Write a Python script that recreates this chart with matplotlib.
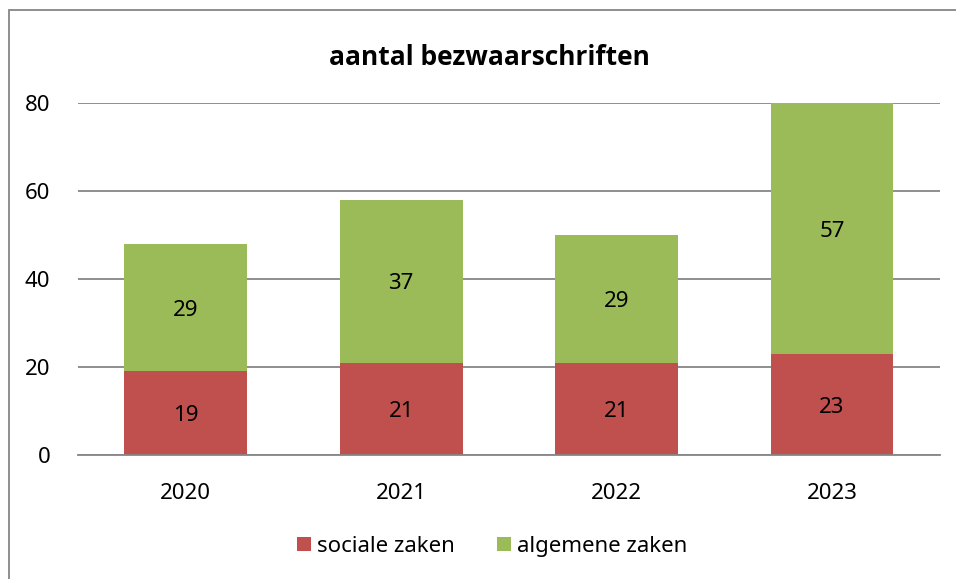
import matplotlib
matplotlib.use('agg')
import matplotlib.pyplot as plt
from matplotlib.patches import Rectangle

plt.rcParams['font.family'] = ['Noto Sans', 'DejaVu Sans']

# data
years = ['2020', '2021', '2022', '2023']
sociale = [19, 21, 21, 23]
algemene = [29, 37, 29, 57]

red = '#C0504D'
green = '#9BBB59'

fig = plt.figure(figsize=(9.56, 5.79), dpi=100)
ax = fig.add_axes([0.0816, 0.2142, 0.9014, 0.6078])

x = range(len(years))
b1 = ax.bar(x, sociale, width=0.57, color=red, label='sociale zaken', zorder=3)
b2 = ax.bar(x, algemene, width=0.57, bottom=sociale, color=green,
            label='algemene zaken', zorder=3)

# labels in the middle of each segment (slightly below centre like the original)
for i in x:
    ax.text(i, sociale[i] / 2 - 0.6, str(sociale[i]), ha='center', va='center',
            fontsize=16, zorder=4)
    ax.text(i, sociale[i] + algemene[i] / 2 - 0.6, str(algemene[i]),
            ha='center', va='center', fontsize=16, zorder=4)

ax.set_xlim(-0.5, 3.5)
ax.set_ylim(0, 80)
ax.set_yticks([0, 20, 40, 60, 80])
ax.set_xticks(list(x))
ax.set_xticklabels(years)
ax.tick_params(axis='both', length=0, labelsize=16)
ax.tick_params(axis='y', pad=20)
ax.tick_params(axis='x', pad=20)
ax.yaxis.grid(True, color='#868686', linewidth=1.3, zorder=0)
for s in ['top', 'right', 'left']:
    ax.spines[s].set_visible(False)
ax.spines['bottom'].set_color('#868686')
ax.spines['bottom'].set_linewidth(1.3)
ax.spines['bottom'].set_zorder(5)

fig.text(0.512, 0.90, 'aantal bezwaarschriften', ha='center', va='center',
         fontsize=19, fontweight='bold', family=['Open Sans', 'DejaVu Sans'])

fig.legend(handles=[b1, b2], loc='center', bbox_to_anchor=(0.515, 0.056),
           ncol=2, frameon=False, fontsize=16, handlelength=0.6,
           handleheight=0.6, handletextpad=0.3, columnspacing=1.9)

# outer chart border
fig.patches.append(Rectangle((9 / 956, -0.01), 1.2, 1 - 10 / 579 + 0.01,
                             transform=fig.transFigure, fill=False,
                             edgecolor='#868686', linewidth=1.3))

fig.savefig('out.png', dpi=100)
